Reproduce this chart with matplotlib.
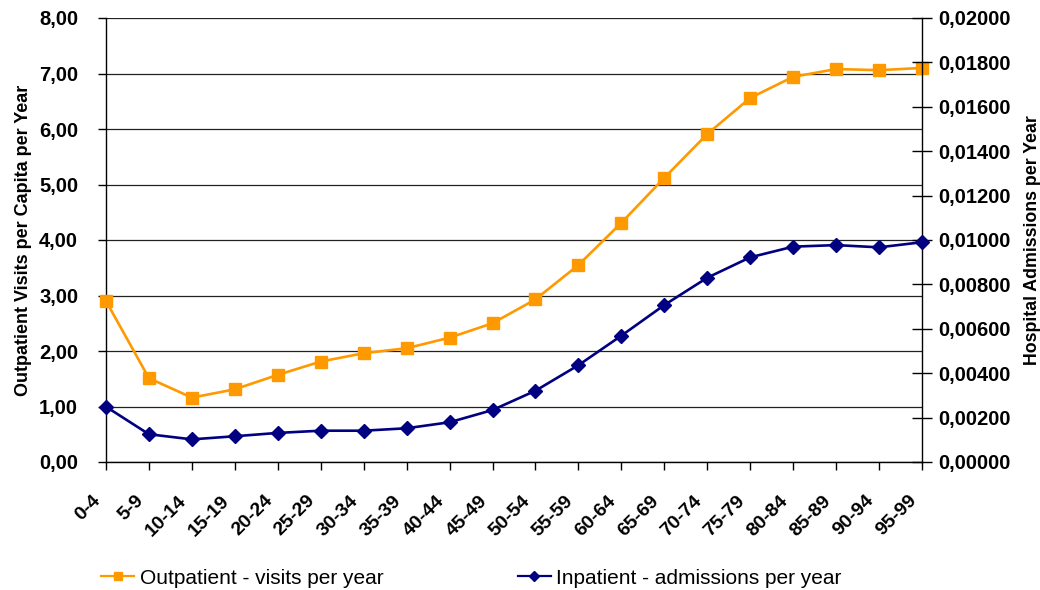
import matplotlib
matplotlib.use("Agg")
import matplotlib.pyplot as plt
from matplotlib.ticker import FuncFormatter, MultipleLocator
from matplotlib.lines import Line2D
import matplotlib.transforms as mtransforms

age_groups = ["0-4", "5-9", "10-14", "15-19", "20-24", "25-29", "30-34", "35-39",
              "40-44", "45-49", "50-54", "55-59", "60-64", "65-69", "70-74",
              "75-79", "80-84", "85-89", "90-94", "95-99"]
outpatient_visits = [2.90, 1.51, 1.16, 1.31, 1.57, 1.81, 1.96, 2.05, 2.24, 2.50,
                     2.93, 3.55, 4.31, 5.12, 5.91, 6.56, 6.94, 7.08, 7.06, 7.10]
inpatient_admissions = [0.00249, 0.00125, 0.00102, 0.00116, 0.00131, 0.00141,
                        0.00141, 0.00152, 0.00179, 0.00234, 0.00321, 0.00436,
                        0.00569, 0.00707, 0.00830, 0.00922, 0.00970, 0.00977,
                        0.00967, 0.00990]

ORANGE = "#FF9900"
NAVY = "#000080"
FONT = "Liberation Sans"

plt.rcParams["font.family"] = [FONT, "DejaVu Sans"]

fig = plt.figure(figsize=(10.4, 5.9), dpi=100)
ax = fig.add_axes([106 / 1040, 1 - 462 / 590, 816 / 1040, 444 / 590])
ax2 = ax.twinx()

x = list(range(len(age_groups)))

# Left axis: outpatient visits
ax.plot(x, outpatient_visits, color=ORANGE, lw=1.9, marker="s", ms=8.5,
        mec=ORANGE, mfc=ORANGE, clip_on=False, zorder=5)
ax.set_xlim(0, len(age_groups) - 1)
ax.set_ylim(0, 8)
ax.yaxis.set_major_locator(MultipleLocator(1))
ax.yaxis.set_major_formatter(FuncFormatter(lambda v, p: f"{v:.2f}".replace(".", ",")))
ax.grid(axis="y", color="#222222", lw=0.9)
ax.set_axisbelow(True)
ax.tick_params(axis="y", direction="out", length=6, width=1, pad=14,
               labelsize=14.5)
for lbl in ax.get_yticklabels():
    lbl.set_fontweight("bold")
ax.set_ylabel("Outpatient Visits per Capita per Year", fontsize=13,
              fontweight="bold", labelpad=5)

ax.set_xticks(x)
ax.set_xticklabels(age_groups, rotation=45, ha="right", va="center",
                   rotation_mode="anchor", fontsize=14, fontweight="bold")
ax.tick_params(axis="x", direction="out", length=6, width=1, pad=20)
shift = mtransforms.ScaledTranslation(-8 / 100, 0, fig.dpi_scale_trans)
for lbl in ax.get_xticklabels():
    lbl.set_transform(lbl.get_transform() + shift)

for side in ("top", "right"):
    ax.spines[side].set_visible(False)
for side in ("left", "bottom"):
    ax.spines[side].set_color("black")
    ax.spines[side].set_linewidth(1)

# Right axis: inpatient admissions
ax2.plot(x, inpatient_admissions, color=NAVY, lw=1.9, marker="D", ms=7.5,
         mec=NAVY, mfc=NAVY, clip_on=False, zorder=5)
ax2.set_ylim(0, 0.02)
ax2.yaxis.set_major_locator(MultipleLocator(0.002))
ax2.yaxis.set_major_formatter(FuncFormatter(lambda v, p: f"{v:.5f}".replace(".", ",")))
ax2.tick_params(axis="y", direction="inout", length=14, width=1, pad=5,
                labelsize=14.5)
for lbl in ax2.get_yticklabels():
    lbl.set_fontweight("bold")
ax2.set_ylabel("Hospital Admissions per Year", fontsize=12.8,
               fontweight="bold", labelpad=9)
for side in ("top", "left", "bottom"):
    ax2.spines[side].set_visible(False)
ax2.spines["right"].set_color("black")
ax2.spines["right"].set_linewidth(1)

handles = [
    Line2D([], [], color=ORANGE, lw=1.6, marker="s", ms=5.5),
    Line2D([], [], color=NAVY, lw=1.6, marker="D", ms=5),
]
fig.legend(handles, ["Outpatient - visits per year", "Inpatient - admissions per year"],
           loc="center left", bbox_to_anchor=(101 / 1040, 1 - 578 / 590),
           ncol=2, frameon=False, fontsize=15, handlelength=1.6,
           handletextpad=0.25, columnspacing=6.45, borderpad=0,
           borderaxespad=0)

fig.savefig("out.png", dpi=100)
